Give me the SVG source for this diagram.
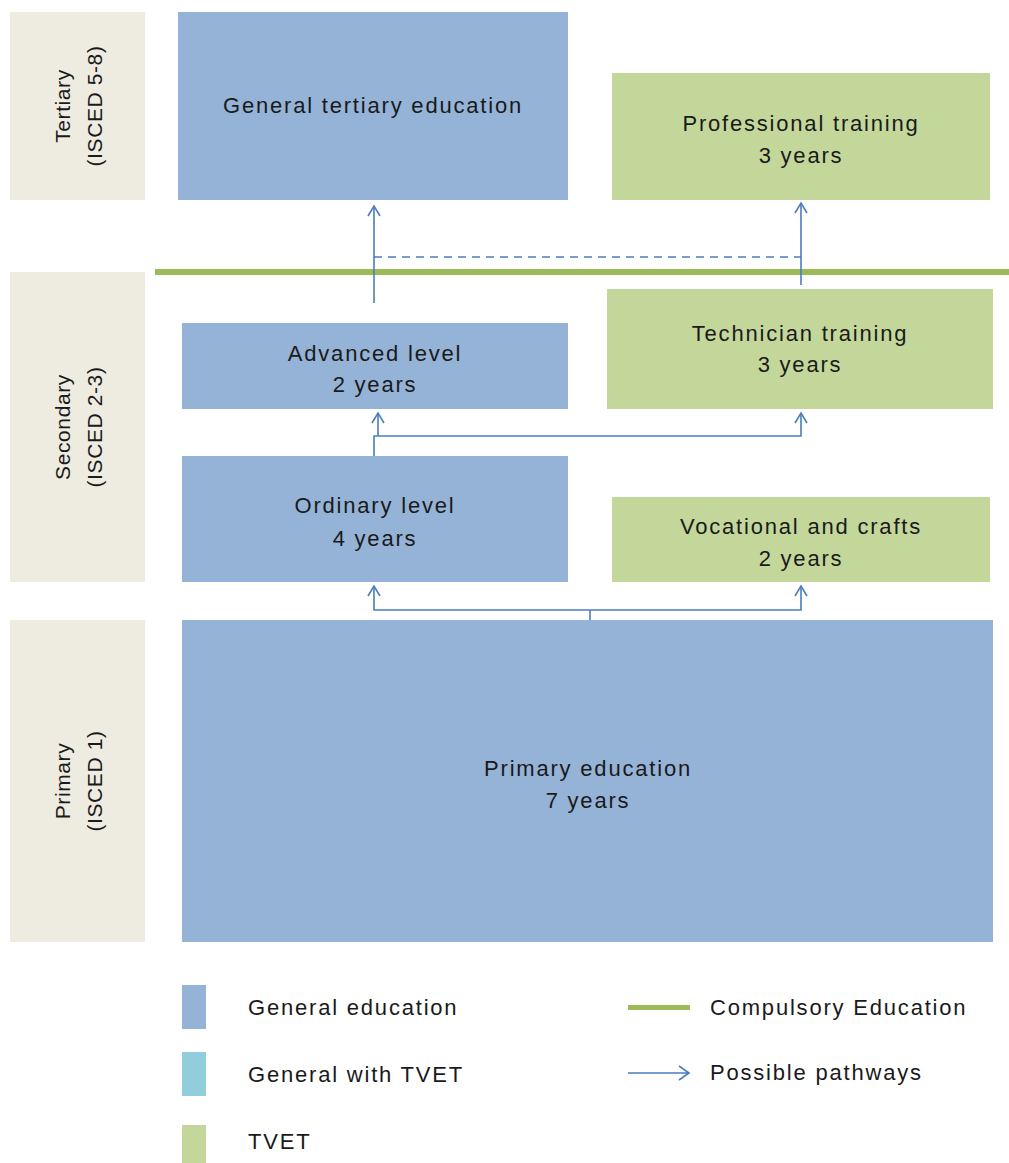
<svg xmlns="http://www.w3.org/2000/svg" width="1009" height="1163" viewBox="0 0 1009 1163">
<style>
text{font-family:"Liberation Sans",Arial,sans-serif;font-size:22px;letter-spacing:1.8px;fill:#1a1a1a}
text.s{font-size:21px;letter-spacing:0.6px}
.c{text-anchor:middle}
.gen{fill:#95b3d7}
.tv{fill:#c4d79b}
.side{fill:#eeebe0}
.con{fill:none;stroke:#4a7ebb;stroke-width:1.6}
</style>
<defs>
<path id="chev" d="M-6,10 L0,0 L6,10" fill="none" stroke="#4a7ebb" stroke-width="1.6"/>
</defs>
<rect width="1009" height="1163" fill="#fff"/>
<g id="side-tertiary"><rect class="side" x="10" y="12" width="135" height="188"/><text class="c s" transform="translate(70,106) rotate(-90)">Tertiary</text><text class="c s" transform="translate(102,106) rotate(-90)">(ISCED 5-8)</text></g>
<g id="side-secondary"><rect class="side" x="10" y="272" width="135" height="310"/><text class="c s" transform="translate(70,427) rotate(-90)">Secondary</text><text class="c s" transform="translate(102,427) rotate(-90)">(ISCED 2-3)</text></g>
<g id="side-primary"><rect class="side" x="10" y="620" width="135" height="322"/><text class="c s" transform="translate(70,781) rotate(-90)">Primary</text><text class="c s" transform="translate(102,781) rotate(-90)">(ISCED 1)</text></g>
<g id="compulsory-line"><rect x="155" y="269" width="854" height="6" fill="#9bbb59"/></g>
<g id="general-tertiary"><rect class="gen" x="178" y="12" width="390" height="188"/><text class="c" x="373" y="113">General tertiary education</text></g>
<g id="professional"><rect class="tv" x="612" y="73" width="378" height="127"/><text class="c" x="801" y="131">Professional training</text><text class="c" x="801" y="163">3 years</text></g>
<g id="advanced"><rect class="gen" x="182" y="323" width="386" height="86"/><text class="c" x="375" y="361">Advanced level</text><text class="c" x="375" y="392">2 years</text></g>
<g id="technician"><rect class="tv" x="607" y="289" width="386" height="120"/><text class="c" x="800" y="341">Technician training</text><text class="c" x="800" y="372">3 years</text></g>
<g id="ordinary"><rect class="gen" x="182" y="456" width="386" height="126"/><text class="c" x="375" y="513">Ordinary level</text><text class="c" x="375" y="546">4 years</text></g>
<g id="vocational"><rect class="tv" x="612" y="497" width="378" height="85"/><text class="c" x="801" y="534">Vocational and crafts</text><text class="c" x="801" y="566">2 years</text></g>
<g id="primary"><rect class="gen" x="182" y="620" width="811" height="322"/><text class="c" x="588" y="776">Primary education</text><text class="c" x="588" y="808">7 years</text></g>
<g id="connectors">
<path class="con" d="M374,303 V206"/><use href="#chev" x="374" y="206"/>
<path class="con" d="M801,285 V203"/><use href="#chev" x="801" y="203"/>
<path class="con" d="M374,257 H801" stroke-dasharray="8,6"/>
<path class="con" d="M374,456 V436 H801 V413"/><use href="#chev" x="801" y="413"/>
<path class="con" d="M378,436 V413"/><use href="#chev" x="378" y="413"/>
<path class="con" d="M590,620 V610"/>
<path class="con" d="M374,586 V610 H801 V586"/><use href="#chev" x="374" y="586"/><use href="#chev" x="801" y="586"/>
</g>
<g id="legend">
<rect class="gen" x="182" y="985" width="24" height="44"/><text x="248" y="1015">General education</text>
<rect x="182" y="1052" width="24" height="44" fill="#92cddc"/><text x="248" y="1082">General with TVET</text>
<rect class="tv" x="182" y="1125" width="24" height="38"/><text x="248" y="1149">TVET</text>
<rect x="628" y="1005" width="62" height="5" fill="#9bbb59"/><text x="710" y="1015">Compulsory Education</text>
<path class="con" d="M628,1073 H688 M679,1066 L689,1073 L679,1080"/><text x="710" y="1080">Possible pathways</text>
</g>
</svg>
